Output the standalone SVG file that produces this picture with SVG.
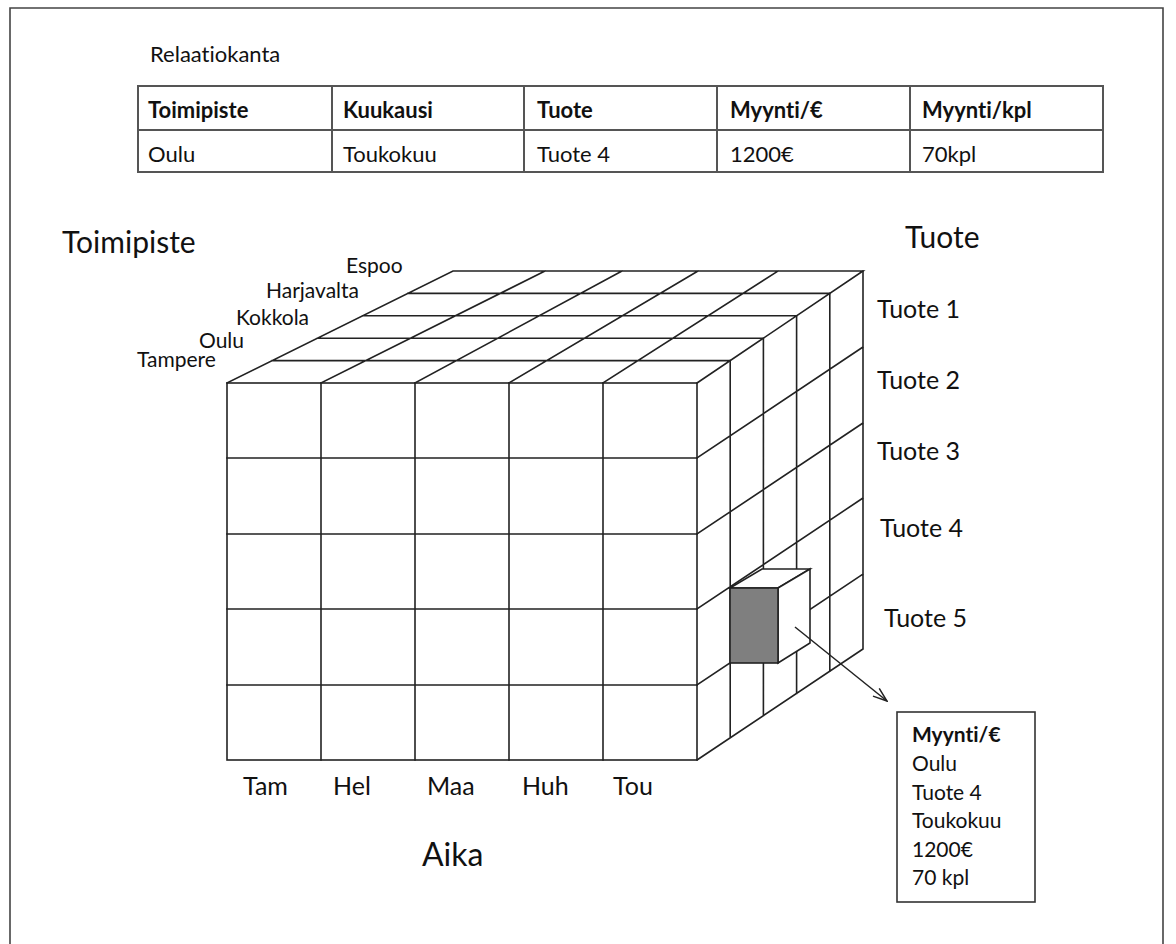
<svg xmlns="http://www.w3.org/2000/svg" width="1176" height="944" viewBox="0 0 1176 944">
<defs>
<style>
text{font-family:Lato,"Liberation Sans",sans-serif;fill:#111;font-variant-ligatures:none;font-feature-settings:"liga" 0}
.s{font-size:21px}
.tb{font-size:22px}
.b{font-weight:bold}
.m{font-size:25px}
.L{font-size:30px}
.A{font-size:32px}
.g{stroke:#222;stroke-width:1.6;fill:none;stroke-linecap:square}
.t{stroke:#555;stroke-width:2;fill:none}
</style>
<marker id="ah" viewBox="0 0 16 12" refX="15" refY="6" markerWidth="16" markerHeight="12" markerUnits="userSpaceOnUse" orient="auto">
<path d="M1,1 L15,6 L1,11" fill="none" stroke="#222" stroke-width="1.5"/>
</marker>
</defs>
<rect width="1176" height="944" fill="#fff"/>
<path d="M10,950 V8 H1163 V950" fill="none" stroke="#444" stroke-width="1.6"/>

<g id="title"><text class="tb" x="150" y="62">Relaatiokanta</text></g>

<g id="table">
<rect class="t" x="138" y="86" width="965" height="86"/>
<path class="t" d="M138,130 H1103 M332,86 V172 M524,86 V172 M717,86 V172 M910,86 V172"/>
<text class="tb b" x="148" y="118">Toimipiste</text>
<text class="tb b" x="343" y="118">Kuukausi</text>
<text class="tb b" x="537" y="118">Tuote</text>
<text class="tb b" x="730" y="118">Myynti/€</text>
<text class="tb b" x="922" y="118">Myynti/kpl</text>
<text class="tb" x="148" y="162">Oulu</text>
<text class="tb" x="343" y="162">Toukokuu</text>
<text class="tb" x="537" y="162">Tuote 4</text>
<text class="tb" x="730" y="162">1200€</text>
<text class="tb" x="922" y="162">70kpl</text>
</g>

<g id="axis-labels">
<text class="L" x="62" y="253">Toimipiste</text>
<text class="L" x="905" y="248">Tuote</text>
<text class="A" x="422" y="866">Aika</text>
</g>

<g id="toimipiste-labels">
<text class="s" x="346" y="273">Espoo</text>
<text class="s" x="266" y="298">Harjavalta</text>
<text class="s" x="236" y="325">Kokkola</text>
<text class="s" x="199" y="348">Oulu</text>
<text class="s" x="137" y="367">Tampere</text>
</g>

<g id="tuote-labels">
<text class="m" x="877" y="318">Tuote 1</text>
<text class="m" x="877" y="389">Tuote 2</text>
<text class="m" x="877" y="460">Tuote 3</text>
<text class="m" x="880" y="537">Tuote 4</text>
<text class="m" x="884" y="627">Tuote 5</text>
</g>

<g id="aika-labels">
<text class="m" x="243" y="795">Tam</text>
<text class="m" x="333" y="795">Hel</text>
<text class="m" x="427" y="795">Maa</text>
<text class="m" x="522" y="795">Huh</text>
<text class="m" x="613" y="795">Tou</text>
</g>

<g id="cube">
<rect class="g" x="227" y="383" width="470" height="377"/>
<path class="g" d="M321,383 V760 M415,383 V760 M509,383 V760 M603,383 V760 M227,458 H697 M227,534 H697 M227,609 H697 M227,685 H697"/>
<path class="g" d="M227,383 L453,271 H863 L697,383 M272.2,360.6 H730.2 M317.4,338.2 H763.4 M362.6,315.8 H796.6 M407.8,293.4 H829.8 M321,383 L545,271 M415,383 L622,271 M509,383 L698,271 M603,383 L778,271"/>
<path class="g" d="M863,271 V649 L697,760 M730.2,360.6 V737.8 M763.4,338.2 V715.6 M796.6,315.8 V693.4 M829.8,293.4 V671.2 M697,458 L863,347 M697,534 L863,423 M697,609 L863,498 M697,685 L863,574"/>
</g>

<g id="cell">
<polygon points="730,588 778,588 810,569 762,569" fill="#fff" stroke="#222" stroke-width="1.6"/>
<polygon points="778,588 810,569 810,643 778,663" fill="#fff" stroke="#222" stroke-width="1.6"/>
<rect x="730" y="588" width="48" height="75" fill="#7f7f7f" stroke="#222" stroke-width="1.6"/>
</g>

<g id="connectors">
<line x1="795" y1="627" x2="887" y2="701" stroke="#222" stroke-width="1.5" marker-end="url(#ah)"/>
</g>

<g id="info">
<rect x="897" y="712" width="138" height="190" fill="#fff" stroke="#333" stroke-width="1.6"/>
<text class="s b" x="912" y="742">Myynti/€</text>
<text class="s" x="912" y="771">Oulu</text>
<text class="s" x="912" y="800">Tuote 4</text>
<text class="s" x="912" y="828">Toukokuu</text>
<text class="s" x="912" y="857">1200€</text>
<text class="s" x="912" y="885">70 kpl</text>
</g>
</svg>
